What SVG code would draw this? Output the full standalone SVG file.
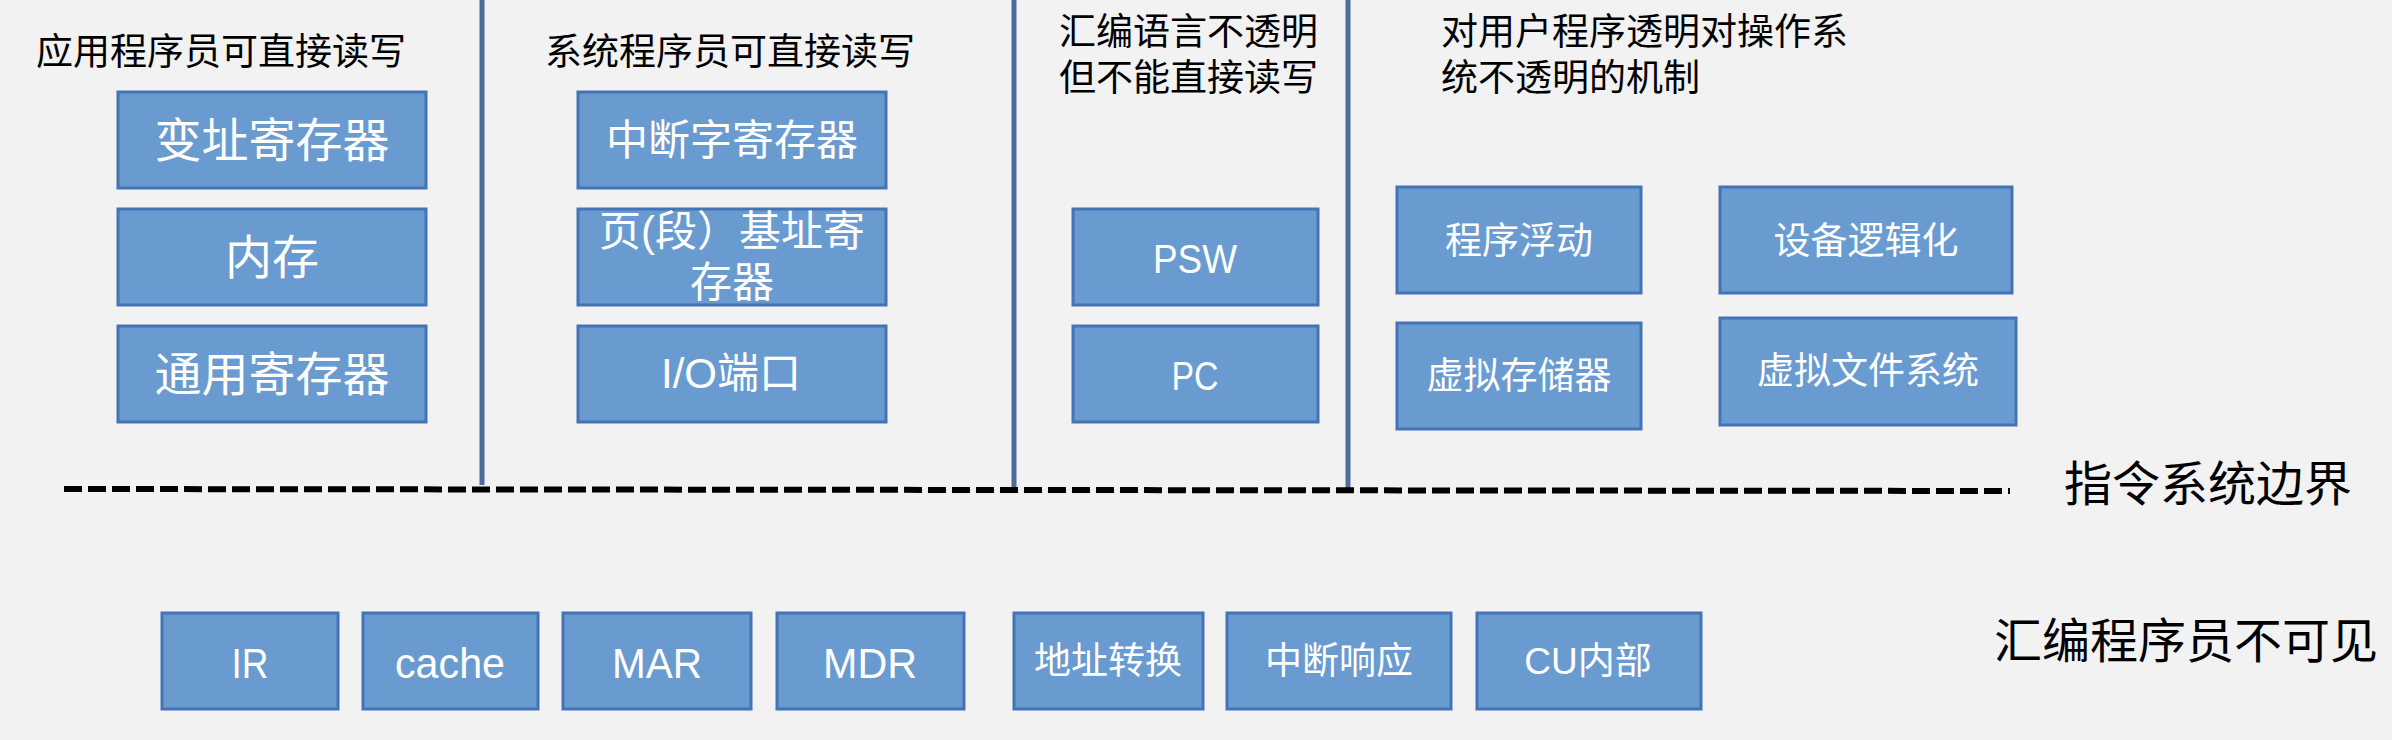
<svg xmlns="http://www.w3.org/2000/svg" width="2392" height="740" viewBox="0 0 2392 740">
<style>
.bx{fill:#6a9bd0;stroke:#4473b6;stroke-width:3}
.t{font-family:"Noto Sans CJK SC","Liberation Sans",sans-serif;fill:#000}
.w{font-family:"Liberation Sans","Noto Sans CJK SC",sans-serif;fill:#fff;text-anchor:middle}
.vl{stroke:#4c6d9c;stroke-width:5}
</style>
<rect width="2392" height="740" fill="#f2f2f2"/>
<g id="connectors">
<line class="vl" x1="482" y1="0" x2="482" y2="485"/>
<line class="vl" x1="1014" y1="0" x2="1014" y2="492"/>
<line class="vl" x1="1348" y1="0" x2="1348" y2="492"/>
<line x1="64" y1="489" x2="2010" y2="491" stroke="#000" stroke-width="6" stroke-dasharray="18 6"/>
</g>
<g id="labels">
<text class="t" x="36" y="65" font-size="37">应用程序员可直接读写</text>
<text class="t" x="545" y="65" font-size="37">系统程序员可直接读写</text>
<text class="t" x="1059" y="45" font-size="37">汇编语言不透明</text>
<text class="t" x="1059" y="91" font-size="37">但不能直接读写</text>
<text class="t" x="1441" y="45" font-size="37">对用户程序透明对操作系</text>
<text class="t" x="1441" y="91" font-size="37">统不透明的机制</text>
<text class="t" x="2064" y="501" font-size="48">指令系统边界</text>
<text class="t" x="1994" y="658" font-size="48">汇编程序员不可见</text>
</g>
<g id="n1"><rect class="bx" x="118" y="92" width="308" height="96"/><text class="w" x="272" y="157" font-size="47">变址寄存器</text></g>
<g id="n2"><rect class="bx" x="118" y="209" width="308" height="96"/><text class="w" x="272" y="274" font-size="47">内存</text></g>
<g id="n3"><rect class="bx" x="118" y="326" width="308" height="96"/><text class="w" x="272" y="391" font-size="47">通用寄存器</text></g>
<g id="n4"><rect class="bx" x="578" y="92" width="308" height="96"/><text class="w" x="732" y="155" font-size="42">中断字寄存器</text></g>
<g id="n5"><rect class="bx" x="578" y="209" width="308" height="96"/><text class="w" x="732" y="246" font-size="42">页(段）基址寄</text><text class="w" x="732" y="297" font-size="42">存器</text></g>
<g id="n6"><rect class="bx" x="578" y="326" width="308" height="96"/><text class="w" x="731" y="388" font-size="42">I/O端口</text></g>
<g id="n7"><rect class="bx" x="1073" y="209" width="245" height="96"/><text class="w" x="1195" y="273" font-size="40" textLength="84" lengthAdjust="spacingAndGlyphs">PSW</text></g>
<g id="n8"><rect class="bx" x="1073" y="326" width="245" height="96"/><text class="w" x="1195" y="390" font-size="40" textLength="47" lengthAdjust="spacingAndGlyphs">PC</text></g>
<g id="n9"><rect class="bx" x="1397" y="187" width="244" height="106"/><text class="w" x="1519" y="254" font-size="37">程序浮动</text></g>
<g id="n10"><rect class="bx" x="1720" y="187" width="292" height="106"/><text class="w" x="1866" y="254" font-size="37">设备逻辑化</text></g>
<g id="n11"><rect class="bx" x="1397" y="323" width="244" height="106"/><text class="w" x="1519" y="389" font-size="37">虚拟存储器</text></g>
<g id="n12"><rect class="bx" x="1720" y="318" width="296" height="107"/><text class="w" x="1868" y="384" font-size="37">虚拟文件系统</text></g>
<g id="n13"><rect class="bx" x="162" y="613" width="176" height="96"/><text class="w" x="250" y="678" font-size="42" textLength="37" lengthAdjust="spacingAndGlyphs">IR</text></g>
<g id="n14"><rect class="bx" x="363" y="613" width="175" height="96"/><text class="w" x="450" y="678" font-size="42" textLength="110" lengthAdjust="spacingAndGlyphs">cache</text></g>
<g id="n15"><rect class="bx" x="563" y="613" width="188" height="96"/><text class="w" x="657" y="678" font-size="42" textLength="90" lengthAdjust="spacingAndGlyphs">MAR</text></g>
<g id="n16"><rect class="bx" x="777" y="613" width="187" height="96"/><text class="w" x="870" y="678" font-size="42" textLength="94" lengthAdjust="spacingAndGlyphs">MDR</text></g>
<g id="n17"><rect class="bx" x="1014" y="613" width="189" height="96"/><text class="w" x="1108" y="674" font-size="37">地址转换</text></g>
<g id="n18"><rect class="bx" x="1227" y="613" width="224" height="96"/><text class="w" x="1339" y="674" font-size="37">中断响应</text></g>
<g id="n19"><rect class="bx" x="1477" y="613" width="224" height="96"/><text class="w" x="1588" y="674" font-size="37">CU内部</text></g>
</svg>
